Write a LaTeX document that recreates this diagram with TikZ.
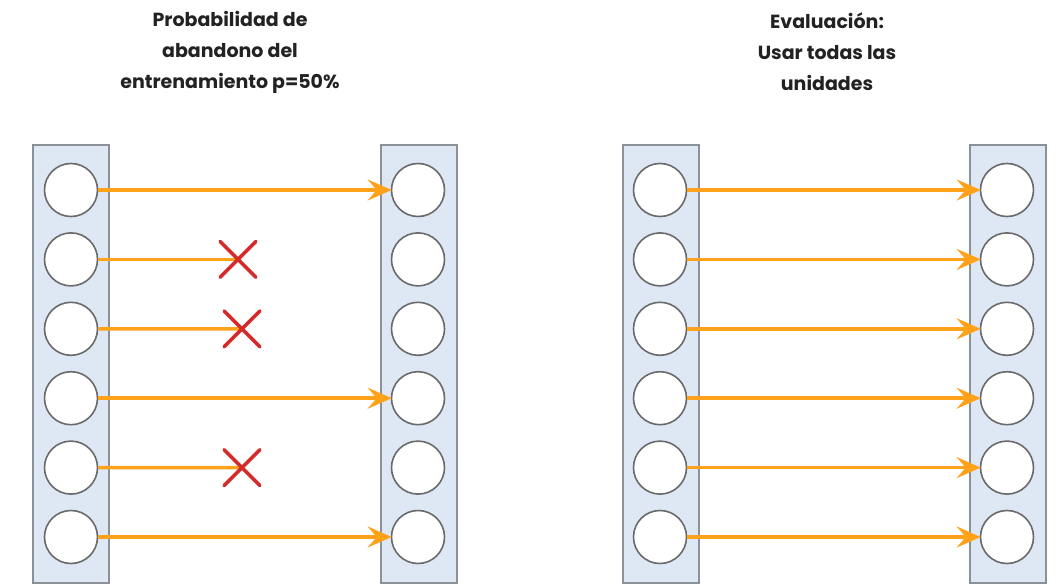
\documentclass[tikz,border=0pt]{standalone}
\usepackage{fontspec}
\setmainfont{Poppins}
\usetikzlibrary{arrows.meta}
\definecolor{layerfill}{HTML}{DEE8F4}
\definecolor{layerdraw}{HTML}{8C9097}
\definecolor{unitdraw}{HTML}{6A6A6A}
\definecolor{linkcol}{HTML}{FFA21A}
\definecolor{dropcol}{HTML}{D42A2A}
\definecolor{titlecol}{HTML}{222222}
\tikzset{
  layer/.style={draw=layerdraw, fill=layerfill, line width=2pt, minimum width=76pt, minimum height=438pt, inner sep=0pt},
  unit/.style={circle, draw=unitdraw, fill=white, line width=1.6pt, minimum size=53pt, inner sep=0pt},
  link/.style={draw=linkcol, line width=3.5pt},
  arrowlink/.style={link, -{Stealth[length=24pt, width=21pt, inset=9pt]}, shorten >=-1pt},
  dropmark/.style={draw=dropcol, line width=3.5pt, line cap=round},
  title/.style={align=center, text=titlecol, font=\fontsize{19}{31}\selectfont\bfseries}
}
\begin{document}
\begin{tikzpicture}[x=1pt, y=-1pt]
\useasboundingbox (0,0) rectangle (1057,588);

% titles
\node[title] (ttrain) at (230,52) {Probabilidad de\\abandono del\\entrenamiento p=50\%};
\node[title] (teval) at (827,52) {Evaluación:\\Usar todas las\\unidades};

% layer columns
\node[layer] (A) at (71,364) {};
\node[layer] (B) at (419,364) {};
\node[layer] (C) at (661,364) {};
\node[layer] (D) at (1008,364) {};

% units
\foreach \i [evaluate=\i as \y using 190+69.4*(\i-1)] in {1,...,6} {
  \node[unit] (a\i) at (71,\y) {};
  \node[unit] (b\i) at (418,\y) {};
  \node[unit] (c\i) at (660,\y) {};
  \node[unit] (d\i) at (1007,\y) {};
}

% training: kept connections
\foreach \i in {1,4,6} {
  \draw[arrowlink] (a\i) -- (b\i);
}
% training: dropped connections end at a cross
\coordinate (x2) at (238,259.4);
\coordinate (x3) at (242,328.8);
\coordinate (x5) at (242,467.6);
\foreach \i in {2,3,5} {
  \draw[link] (a\i.east) -- (x\i);
  \draw[dropmark] ([shift={(-18,-18)}]x\i) -- ([shift={(18,18)}]x\i);
  \draw[dropmark] ([shift={(-18,18)}]x\i) -- ([shift={(18,-18)}]x\i);
}

% evaluation: all connections
\foreach \i in {1,...,6} {
  \draw[arrowlink] (c\i) -- (d\i);
}
\end{tikzpicture}
\end{document}
